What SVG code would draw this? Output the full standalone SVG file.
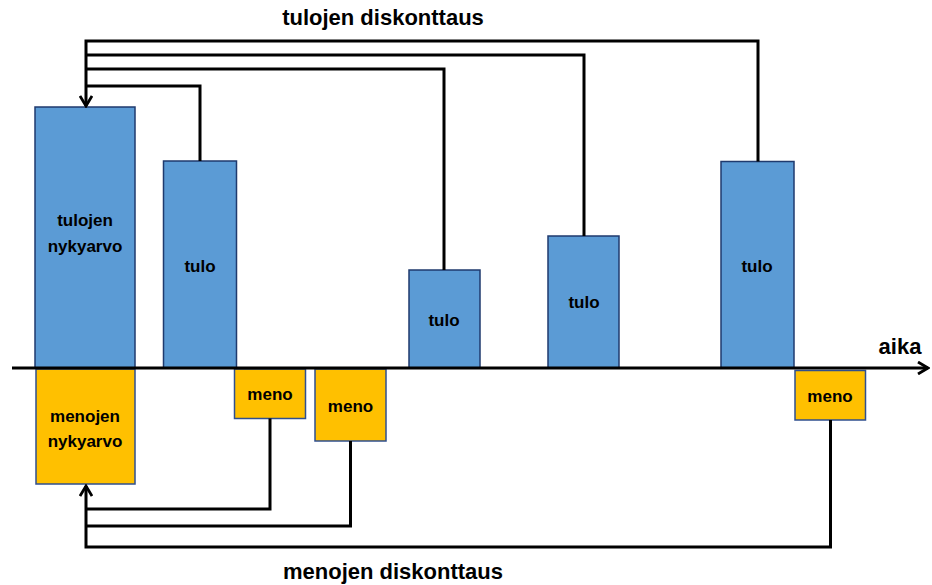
<svg xmlns="http://www.w3.org/2000/svg" width="932" height="585" viewBox="0 0 932 585">
<style>
.t{fill:#5B9BD5;stroke:#1F3A6E;stroke-width:1.5}
.m{fill:#FFC000;stroke:#2F4F8F;stroke-width:1.5}
.w{fill:none;stroke:#000;stroke-width:3;stroke-linejoin:miter}
text{font-family:"Liberation Sans",Arial,sans-serif;font-weight:bold;fill:#000;text-anchor:middle}
.lb{font-size:17px}
.ti{font-size:22px}
</style>
<defs>
<marker id="ah" viewBox="0 0 14 14" refX="12" refY="7" markerWidth="14" markerHeight="14" markerUnits="userSpaceOnUse" orient="auto">
<path d="M2,1 L12,7 L2,13" fill="none" stroke="#000" stroke-width="2.8"/>
</marker>
</defs>
<rect width="932" height="585" fill="#fff"/>
<g id="nodes">
<g id="tulojen-nykyarvo"><rect class="t" x="35" y="107" width="100" height="261"/><text class="lb" x="85" y="226">tulojen</text><text class="lb" x="85" y="252">nykyarvo</text></g>
<g id="tulo1"><rect class="t" x="163.5" y="161" width="73" height="207"/><text class="lb" x="200" y="272">tulo</text></g>
<g id="tulo2"><rect class="t" x="409" y="270" width="71" height="98"/><text class="lb" x="444" y="326">tulo</text></g>
<g id="tulo3"><rect class="t" x="548" y="236" width="71" height="132"/><text class="lb" x="584" y="308">tulo</text></g>
<g id="tulo4"><rect class="t" x="721" y="161.5" width="73" height="206.5"/><text class="lb" x="757" y="272">tulo</text></g>
<g id="menojen-nykyarvo"><rect class="m" x="36" y="369" width="99" height="115"/><text class="lb" x="85" y="422">menojen</text><text class="lb" x="85" y="447">nykyarvo</text></g>
<g id="meno1"><rect class="m" x="234.5" y="369" width="71" height="49.5"/><text class="lb" x="270" y="400">meno</text></g>
<g id="meno2"><rect class="m" x="315" y="369" width="71" height="72"/><text class="lb" x="350.5" y="412">meno</text></g>
<g id="meno3"><rect class="m" x="795" y="370.5" width="70.5" height="49.5"/><text class="lb" x="830" y="402">meno</text></g>
</g>
<g id="connectors">
<line class="w" x1="12" y1="368" x2="928" y2="368" marker-end="url(#ah)"/>
<path class="w" d="M758,161.5 V41 H86 V106" marker-end="url(#ah)"/>
<path class="w" d="M584,236 V55 H86"/>
<path class="w" d="M444,270 V69 H86"/>
<path class="w" d="M200,161 V86 H86"/>
<path class="w" d="M830.5,420 V547 H86 V486" marker-end="url(#ah)"/>
<path class="w" d="M350.5,441 V526 H86"/>
<path class="w" d="M270,418.5 V509 H86"/>
</g>
<g id="labels">
<text class="ti" x="383" y="25">tulojen diskonttaus</text>
<text class="ti" x="393" y="579">menojen diskonttaus</text>
<text class="ti" x="900" y="354">aika</text>
</g>
</svg>
